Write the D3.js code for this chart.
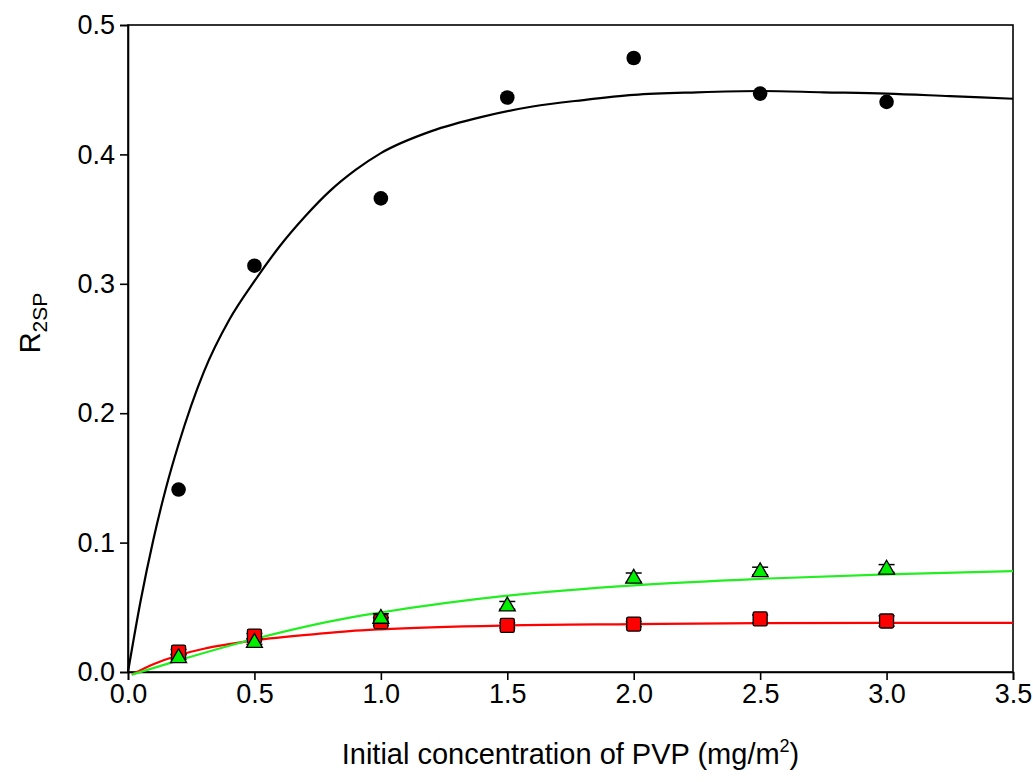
<!DOCTYPE html>
<html><head><meta charset="utf-8">
<script src="https://cdn.jsdelivr.net/npm/d3@7"></script>
<style>body{margin:0;background:#fff}svg{display:block}text{font-family:"Liberation Sans",Arial,sans-serif}</style>
</head><body><svg id="c" width="1033" height="782"></svg>
<script>
// measured points
const xPts = [0.2, 0.5, 1.0, 1.5, 2.0, 2.5, 3.0];
const blackPts = [0.141, 0.314, 0.366, 0.444, 0.4745, 0.447, 0.4406];
const redPts   = [0.0154, 0.0278, 0.039, 0.036, 0.037, 0.041, 0.0394];
const greenPts = [0.0116, 0.0234, 0.042, 0.0515, 0.073, 0.078, 0.080];
const redErr   = [0.002, 0.002, 0.003, 0.002, 0.002, 0.003, 0.004];
const greenErr = [0.002, 0.002, 0.003, 0.003, 0.0035, 0.003, 0.003];
// fitted curves
const blackFitX = [0, 0.05, 0.1, 0.15, 0.2, 0.3, 0.4, 0.5, 0.6, 0.7, 0.8, 0.9, 1.0, 1.2, 1.4, 1.6, 1.8, 2.0, 2.25, 2.5, 2.75, 3.0, 3.25, 3.5];
const blackFitY = [0, 0.055, 0.102, 0.142, 0.176, 0.232, 0.272, 0.302, 0.329, 0.352, 0.372, 0.388, 0.401, 0.418, 0.429, 0.437, 0.442, 0.446, 0.448, 0.449, 0.448, 0.447, 0.445, 0.443];
const redFitX = [0.015, 0.1, 0.2, 0.3, 0.4, 0.5, 0.75, 0.877, 1.0, 1.5, 2.0, 2.5, 3.0, 3.5];
const redFitY = [-0.002, 0.006, 0.013, 0.018, 0.0215, 0.0245, 0.0295, 0.0316, 0.033, 0.036, 0.037, 0.0378, 0.038, 0.038];
const greenFitX = [0.015, 0.2, 0.5, 0.877, 1.0, 1.5, 2.0, 2.5, 3.0, 3.5];
const greenFitY = [-0.002, 0.009, 0.0255, 0.042, 0.046, 0.059, 0.067, 0.072, 0.0755, 0.078];
const xTicks = [0.0, 0.5, 1.0, 1.5, 2.0, 2.5, 3.0, 3.5];
const yTicks = [0.0, 0.1, 0.2, 0.3, 0.4, 0.5];

const m = {l:128, r:20, t:25, b:110};
const W = 1033, H = 782;
const svg = d3.select("#c");
const x = d3.scaleLinear().domain([0, 3.5]).range([m.l, W - m.r]);
const y = d3.scaleLinear().domain([0, 0.5]).range([H - m.b, m.t]);

const g = svg.append("g");
// frame
g.append("rect").attr("x", x(0)).attr("y", y(0.5)).attr("width", x(3.5)-x(0)).attr("height", y(0)-y(0.5))
 .attr("fill","none").attr("stroke","#000").attr("stroke-width",1.6);

const xa = g.append("g").attr("transform",`translate(0,${y(0)})`)
 .call(d3.axisBottom(x).tickValues(xTicks).tickFormat(d3.format(".1f")).tickSize(8).tickPadding(4));
const ya = g.append("g").attr("transform",`translate(${x(0)},0)`)
 .call(d3.axisLeft(y).tickValues(yTicks).tickFormat(d3.format(".1f")).tickSize(8).tickPadding(5));
[xa, ya].forEach(a => {
  a.select(".domain").attr("stroke","#000").attr("stroke-width",1.6);
  a.selectAll(".tick line").attr("stroke","#000").attr("stroke-width",1.6);
  a.selectAll("text").attr("font-size",27).attr("fill","#000").style("font-family",'"Liberation Sans",Arial,sans-serif');
});

const line = d3.line().x(d=>x(d[0])).y(d=>y(d[1])).curve(d3.curveMonotoneX);
function fit(xs, ys, col){
  g.append("path").datum(xs.map((v,i)=>[v, ys[i]])).attr("d", line)
   .attr("fill","none").attr("stroke",col).attr("stroke-width",2.2);
}
fit(blackFitX, blackFitY, "#000");
fit(redFitX, redFitY, "#ff0000");
fit(greenFitX, greenFitY, "#22ee22");

function errBars(vals, errs){
  const eg = g.append("g").attr("stroke","#000").attr("stroke-width",1.5);
  xPts.forEach((xv,i)=>{
    const cx = x(xv), y1 = y(vals[i]+errs[i]), y2 = y(vals[i]-errs[i]);
    eg.append("line").attr("x1",cx).attr("x2",cx).attr("y1",y1).attr("y2",y2);
    eg.append("line").attr("x1",cx-8).attr("x2",cx+8).attr("y1",y1).attr("y2",y1);
    eg.append("line").attr("x1",cx-8).attr("x2",cx+8).attr("y1",y2).attr("y2",y2);
  });
}
errBars(redPts, redErr);
errBars(greenPts, greenErr);

// black circles
g.selectAll(".bc").data(xPts.map((v,i)=>[v, blackPts[i]])).enter().append("circle")
 .attr("cx",d=>x(d[0])).attr("cy",d=>y(d[1])).attr("r",7.3).attr("fill","#000");
// red squares
g.selectAll(".rs").data(xPts.map((v,i)=>[v, redPts[i]])).enter().append("rect")
 .attr("x",d=>x(d[0])-7).attr("y",d=>y(d[1])-7).attr("width",14).attr("height",14).attr("rx",1.5)
 .attr("fill","#ff0000").attr("stroke","#000").attr("stroke-width",1.3);
// green triangles
const tri = d3.symbol().type(d3.symbolTriangle).size(110);
g.selectAll(".gt").data(xPts.map((v,i)=>[v, greenPts[i]])).enter().append("path")
 .attr("d", tri).attr("transform",d=>`translate(${x(d[0])},${y(d[1])+1})`)
 .attr("fill","#00ee00").attr("stroke","#000").attr("stroke-width",1.3);

// axis titles
const xt = svg.append("text").attr("x", (x(0)+x(3.5))/2).attr("y", 764).attr("text-anchor","middle")
 .attr("font-size",29).attr("fill","#000");
xt.append("tspan").text("Initial concentration of PVP (mg/m");
xt.append("tspan").attr("font-size",18).attr("dy",-12).text("2");
xt.append("tspan").attr("dy",12).text(")");

const yt = svg.append("text").attr("transform",`translate(40,${323}) rotate(-90)`).attr("text-anchor","middle")
 .attr("font-size",29).attr("fill","#000");
yt.append("tspan").text("R");
yt.append("tspan").attr("font-size",21).attr("dy",7).text("2SP");
</script></body></html>
